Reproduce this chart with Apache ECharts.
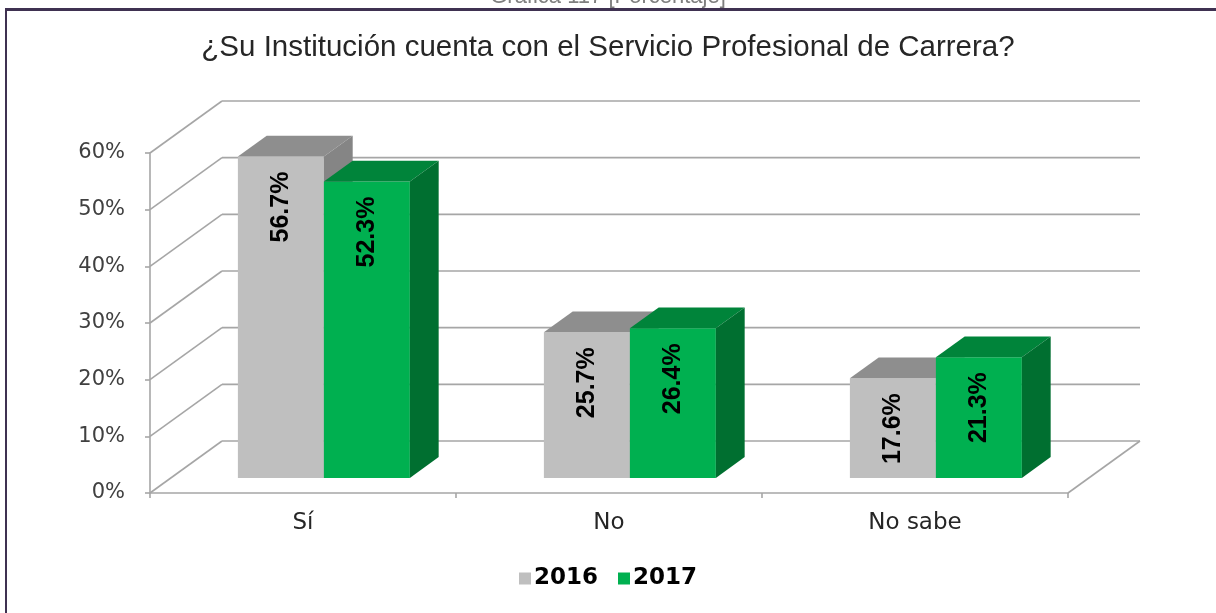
<!DOCTYPE html>
<html>
<head>
<meta charset="utf-8">
<script src="https://cdn.jsdelivr.net/npm/echarts@6/dist/echarts.min.js"></script>
<style>html,body{margin:0;padding:0;background:#fff;}#c{width:1216px;height:613px;}</style>
</head>
<body>
<div id="c"></div>
<script>
const categories = ['Sí', 'No', 'No sabe'];
const values2016 = [56.7, 25.7, 17.6];
const values2017 = [52.3, 26.4, 21.3];
const yTicks = [0, 10, 20, 30, 40, 50, 60];
const seriesNames = ['2016', '2017'];

const DEPTH = [72, -52];      // oblique depth vector of the plot box
const FRONT = 0.29;           // bar front plane depth fraction
const BAR_DEPTH = 0.40;       // bar depth fraction
const BAR_W = 0.281;          // bar width as band fraction
const palette = [
  {front: '#bfbfbf', top: '#8e8e8e', side: '#858585'},
  {front: '#00b050', top: '#00843a', side: '#006f30'}
];

function wallItem(params, api) {
  const cs = params.coordSys;
  const v = api.value(1);
  const p = api.coord([0, v]);
  const x0 = cs.x, W = cs.width, y = p[1];
  const st = {stroke: '#a6a6a6', lineWidth: 1.6};
  const children = [
    {type: 'line', shape: {x1: x0, y1: y, x2: x0 + DEPTH[0], y2: y + DEPTH[1]}, style: st},
    {type: 'line', shape: {x1: x0 + DEPTH[0], y1: y + DEPTH[1], x2: x0 + W + DEPTH[0], y2: y + DEPTH[1]}, style: st}
  ];
  if (v === 0) {
    children.push({type: 'line', shape: {x1: x0 + W, y1: y, x2: x0 + W + DEPTH[0], y2: y + DEPTH[1]}, style: st});
  }
  return {type: 'group', children: children};
}

function barRenderer(s) {
  return function (params, api) {
    const i = api.value(0), v = api.value(1);
    const band = api.size([1, 0])[0];
    const bw = band * BAR_W;
    const base = api.coord([i, 0]);
    const topP = api.coord([i, v]);
    const fdx = DEPTH[0] * FRONT, fdy = DEPTH[1] * FRONT;
    const ddx = DEPTH[0] * BAR_DEPTH, ddy = DEPTH[1] * BAR_DEPTH;
    const L = base[0] + (s === 0 ? -bw : 0) + fdx;
    const R = L + bw;
    const B = base[1] + fdy;
    const T = topP[1] + fdy;
    const c = palette[s];
    return {
      type: 'group',
      children: [
        {type: 'rect', shape: {x: L, y: T, width: bw, height: B - T}, style: {fill: c.front}},
        {type: 'polygon', shape: {points: [[L, T], [R, T], [R + ddx, T + ddy], [L + ddx, T + ddy]]}, style: {fill: c.top}},
        {type: 'polygon', shape: {points: [[R, T], [R + ddx, T + ddy], [R + ddx, B + ddy], [R, B]]}, style: {fill: c.side}},
        {type: 'text', x: L + bw / 2, y: T + 15, rotation: Math.PI / 2,
          style: {text: v.toFixed(1) + '%', align: 'right', verticalAlign: 'middle',
            fill: '#000', font: 'bold 25px "Liberation Sans", Arial, sans-serif'}}
      ]
    };
  };
}

const chart = echarts.init(document.getElementById('c'), null, {renderer: 'canvas'});
chart.setOption({
  backgroundColor: '#ffffff',
  animation: false,
  title: {
    text: '¿Su Institución cuenta con el Servicio Profesional de Carrera?',
    left: 'center', top: 28,
    textStyle: {fontFamily: '"Liberation Sans", Arial, sans-serif', fontSize: 29.5, fontWeight: 'normal', color: '#262626'}
  },
  graphic: [
    {type: 'text', left: 'center', top: -14,
      style: {text: 'Gráfica 117 [Porcentaje]', font: '22px "Liberation Sans", Arial, sans-serif', fill: '#7f7f7f'}},
    {type: 'line', shape: {x1: 5, y1: 9.5, x2: 1216, y2: 9.5}, style: {stroke: '#3f3151', lineWidth: 3}},
    {type: 'line', shape: {x1: 6, y1: 9, x2: 6, y2: 613}, style: {stroke: '#3f3151', lineWidth: 2}}
  ],
  legend: {
    data: seriesNames,
    bottom: 18, left: 'center',
    itemWidth: 12, itemHeight: 12, itemGap: 20,
    icon: 'rect',
    textStyle: {fontFamily: '"DejaVu Sans", sans-serif', fontWeight: 'bold', fontSize: 23, color: '#000', padding: [0, 0, 0, -2]}
  },
  grid: {left: 150, right: 148, top: 153, bottom: 120, containLabel: false},
  xAxis: {
    type: 'category', data: categories, boundaryGap: true,
    axisLine: {show: true, lineStyle: {color: '#a6a6a6', width: 1.6}},
    axisTick: {show: true, length: 5, alignWithLabel: false, lineStyle: {color: '#a6a6a6', width: 1.6}},
    axisLabel: {margin: 19, fontFamily: '"DejaVu Sans", sans-serif', fontSize: 23, color: '#262626'},
    splitLine: {show: false}
  },
  yAxis: {
    type: 'value', min: yTicks[0], max: yTicks[yTicks.length - 1], interval: yTicks[1] - yTicks[0],
    axisLine: {show: true, lineStyle: {color: '#a6a6a6', width: 1.6}},
    axisTick: {show: true, length: 5, lineStyle: {color: '#a6a6a6', width: 1.6}},
    axisLabel: {margin: 25, formatter: '{value}%', fontFamily: '"DejaVu Sans", sans-serif', fontSize: 21, color: '#404040'},
    splitLine: {show: false}
  },
  series: [
    {type: 'custom', name: 'wall', silent: true, clip: false, z: 1,
      data: yTicks.map(function (t) { return [0, t]; }),
      encode: {x: 0, y: 1}, renderItem: wallItem},
    {type: 'custom', name: seriesNames[0], clip: false, z: 2, itemStyle: {color: '#bfbfbf'},
      data: values2016.map(function (v, i) { return [i, v]; }),
      encode: {x: 0, y: 1}, renderItem: barRenderer(0)},
    {type: 'custom', name: seriesNames[1], clip: false, z: 3, itemStyle: {color: '#00b050'},
      data: values2017.map(function (v, i) { return [i, v]; }),
      encode: {x: 0, y: 1}, renderItem: barRenderer(1)}
  ]
});
</script>
</body>
</html>
